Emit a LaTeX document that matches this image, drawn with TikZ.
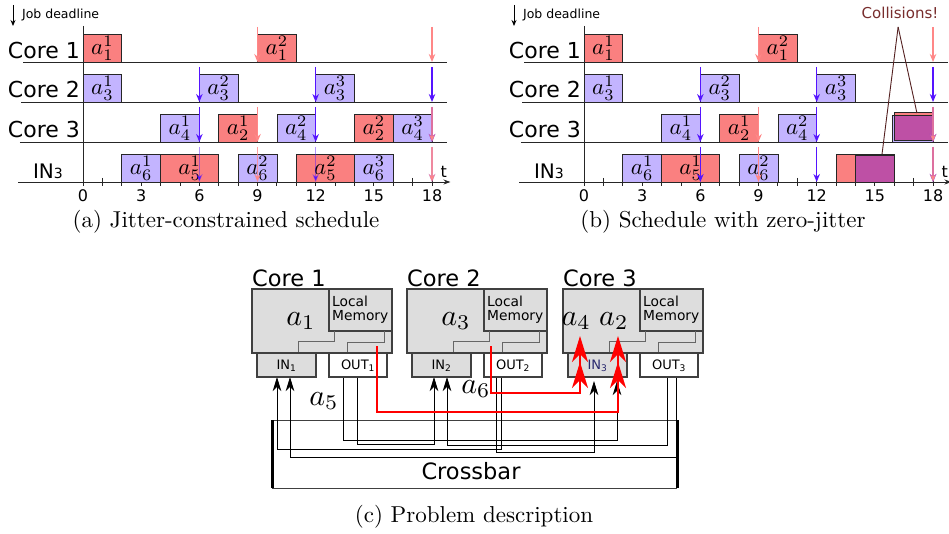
\RequirePackage{fix-cm}
\documentclass[tikz,border=0pt]{standalone}
\usepackage{fontspec}
\setsansfont{DejaVu Sans}
\usepackage{graphicx}
\usetikzlibrary{arrows.meta}
\definecolor{jred}{RGB}{250,128,128}
\definecolor{jblue}{RGB}{195,180,255}
\definecolor{dlblue}{RGB}{85,20,255}
\definecolor{dlpink}{RGB}{255,135,135}
\definecolor{mixc}{RGB}{190,80,165}
\definecolor{memgray}{RGB}{221,221,221}
\definecolor{collcol}{RGB}{120,45,45}
\definecolor{navyin}{RGB}{40,40,110}
\newcommand\fsz[1]{\fontsize{#1}{#1}\selectfont}
\tikzset{
  rowline/.style={line width=0.9pt, draw=black!85},
  jobbox/.style={draw=black!85, line width=0.8pt},
  joblbl/.style={inner sep=0pt},
  dlB/.style={draw=dlblue, line width=1.1pt, -{Stealth[length=8pt,width=6.5pt]}},
  dlP/.style={draw=dlpink, line width=1.1pt, -{Stealth[length=8pt,width=6.5pt]}},
  rowlbl/.style={font=\sffamily\fsz{22}, inner sep=0pt},
  numlbl/.style={font=\sffamily\fsz{16}, inner sep=0pt},
  caplbl/.style={inner sep=0pt},
  corebox/.style={draw=black!75, line width=1.1pt, fill=memgray},
  outbox/.style={draw=black!75, line width=1.1pt, fill=white},
  inl/.style={draw=black!60, line width=1pt},
  portlbl/.style={font=\sffamily\fsz{13}, inner sep=0pt},
  wire/.style={draw=black, line width=0.8pt, -{Stealth[length=14pt,width=8.5pt,inset=4pt]}},
  redw/.style={draw=red, line width=2.5pt, -{Stealth[length=26pt,width=16pt,inset=8pt]Stealth[length=26pt,width=16pt,inset=8pt]}},
  collline/.style={draw=collcol!70!black, line width=0.9pt},
}
\newcommand\jbox[6]{%
  \draw[jobbox,fill=#1] (#2,#4-28) rectangle (#3,#4);
  \node[joblbl] (#6) at ({(#2+#3)/2},#4-14) {\scalebox{2.3}{#5}};}
\newcommand\dline[3]{\draw[#1] (#2,#3-35) -- (#2,#3);}
\newcommand\chartframe[1]{%
  \draw[rowline] (-3.09,62) -- (18.75,62);
  \draw[rowline] (-3.19,102) -- (18.75,102);
  \draw[rowline] (-3.25,142) -- (18.75,142);
  \foreach \i in {0,...,18} \draw[rowline] (\i,178) -- (\i,186);
  \draw[rowline,-{Stealth[length=7pt,width=5pt]}] (-3.35,182) -- (18.95,182);
  \draw[rowline] (0,26) -- (0,186);
  \foreach \i in {0,3,...,18} \node[numlbl] (#1n\i) at (\i,196) {\i};
  \node[numlbl] (#1t) at (18.6,172) {t};
  \node[rowlbl,anchor=east] (#1c1) at (-0.15,50) {Core 1};
  \node[rowlbl,anchor=east] (#1c2) at (-0.15,89) {Core 2};
  \node[rowlbl,anchor=east] (#1c3) at (-0.15,129) {Core 3};
  \node[anchor=east,inner sep=0pt,font=\sffamily] (#1in) at (-1.03,171) {\fsz{20}IN\fsz{14}3};
  \coordinate (#1jdt) at (-3.61,5);
  \coordinate (#1jdb) at (-3.61,26);
  \draw[line width=0.9pt,-{Stealth[length=6pt,width=5pt]}] (#1jdt) -- (#1jdb);
  \node[font=\sffamily\fsz{12.5}, anchor=west, inner sep=0pt] (#1jd) at (-3.15,15) {Job deadline};
}
\newcommand\coreunit[3]{%
  \draw[corebox] (#1,289) rectangle ++(140,64);
  \draw[corebox] (#1+77,289) rectangle (#1+140,331);
  \node[font=\sffamily\fsz{13.8}, align=left, anchor=west, inner sep=0pt] (mem#2) at (#1+80,310) {Local\\[0pt]Memory};
  \draw[inl] (#1+46,353) -- (#1+46,341) -- (#1+82,341) -- (#1+82,331);
  \draw[inl] (#1+95,353) -- (#1+95,342) -- (#1+132,342) -- (#1+132,331);
  \draw[corebox] (#1+5,353) rectangle (#1+64,377);
  \draw[outbox] (#1+77,353) rectangle (#1+135,377);
  \node[portlbl,text=#3] (in#2) at (#1+34.5,365.5) {IN\textsubscript{#2}};
  \node[portlbl] (out#2) at (#1+106,365.5) {OUT\textsubscript{#2}};
  \node[font=\sffamily\fsz{22.5}, anchor=west, inner sep=0pt] (core#2) at (#1,278) {Core #2};
}
\begin{document}
\begin{tikzpicture}[x=1pt,y=-1pt]
\useasboundingbox (0,0) rectangle (949,534);
\fill[white] (0,0) rectangle (949,534);

%%%%%%%% (a)
\begin{scope}[shift={(83pt,0pt)}, x=19.39pt]
  \chartframe{a}
  \jbox{jred}{0}{2}{62}{$a_1^1$}{aA11}
  \jbox{jred}{9}{11}{62}{$a_1^2$}{aA12}
  \jbox{jblue}{0}{2}{102}{$a_3^1$}{aA31}
  \jbox{jblue}{6}{8}{102}{$a_3^2$}{aA32}
  \jbox{jblue}{12}{14}{102}{$a_3^3$}{aA33}
  \jbox{jblue}{4}{6}{142}{$a_4^1$}{aA41}
  \jbox{jred}{7}{9}{142}{$a_2^1$}{aA21}
  \jbox{jblue}{10}{12}{142}{$a_4^2$}{aA42}
  \jbox{jred}{14}{16}{142}{$a_2^2$}{aA22}
  \jbox{jblue}{16}{18}{142}{$a_4^3$}{aA43}
  \jbox{jblue}{2}{4}{182}{$a_6^1$}{aA61}
  \jbox{jred}{4}{7}{182}{$a_5^1$}{aA51}
  \jbox{jblue}{8}{10}{182}{$a_6^2$}{aA62}
  \jbox{jred}{11}{14}{182}{$a_5^2$}{aA52}
  \jbox{jblue}{14}{16}{182}{$a_6^3$}{aA63}
  \dline{dlP}{9}{62}\dline{dlP}{18}{62}
  \dline{dlB}{6}{102}\dline{dlB}{12}{102}\dline{dlB}{18}{102}
  \dline{dlB}{6}{142}\dline{dlB}{12}{142}\dline{dlB}{18}{142}
  \dline{dlP}{9}{142}\dline{dlP,draw opacity=0.8}{18}{142}
  \dline{dlB,draw opacity=0.45}{6}{182}\dline{dlB,draw opacity=0.45}{12}{182}\dline{dlB,draw opacity=0.45}{18}{182}
  \dline{dlP,draw opacity=0.8}{9}{182}\dline{dlP,draw opacity=0.8}{18}{182}
\end{scope}

%%%%%%%% (b)
\begin{scope}[shift={(584pt,0pt)}, x=19.39pt]
  \chartframe{b}
  \jbox{jred}{0}{2}{62}{$a_1^1$}{bA11}
  \jbox{jred}{9}{11}{62}{$a_1^2$}{bA12}
  \jbox{jblue}{0}{2}{102}{$a_3^1$}{bA31}
  \jbox{jblue}{6}{8}{102}{$a_3^2$}{bA32}
  \jbox{jblue}{12}{14}{102}{$a_3^3$}{bA33}
  \jbox{jblue}{4}{6}{142}{$a_4^1$}{bA41}
  \jbox{jred}{7}{9}{142}{$a_2^1$}{bA21}
  \jbox{jblue}{10}{12}{142}{$a_4^2$}{bA42}
  \draw[jobbox,fill=jblue] (15.9,115) rectangle (18,142);
  \draw[jobbox,fill=jred] (16,112) rectangle (18,140);
  \draw[jobbox,fill=mixc] (16,115) rectangle (18,140);
  \jbox{jblue}{2}{4}{182}{$a_6^1$}{bA61}
  \jbox{jred}{4}{7}{182}{$a_5^1$}{bA51}
  \jbox{jblue}{8}{10}{182}{$a_6^2$}{bA62}
  \draw[jobbox,fill=jred] (13,154) rectangle (16,182);
  \draw[jobbox,fill=mixc] (14,155) rectangle (16,182);
  \dline{dlP}{9}{62}\dline{dlP}{18}{62}
  \dline{dlB}{6}{102}\dline{dlB}{12}{102}\dline{dlB}{18}{102}
  \dline{dlB}{6}{142}\dline{dlB}{12}{142}\dline{dlB}{18}{142}
  \dline{dlP}{9}{142}\dline{dlP,draw opacity=0.8}{18}{142}
  \dline{dlB}{6}{182}\dline{dlB}{12}{182}\dline{dlB}{18}{182}
  \dline{dlP}{9}{182}\dline{dlP,draw opacity=0.8}{18}{182}
  \node[font=\sffamily\fsz{15}, text=collcol, inner sep=0pt] (coll) at (16.3,13) {Collisions!};
  \coordinate (collpt) at (16.2,27);
  \coordinate (collA) at (15.37,154);
  \coordinate (collB) at (17.17,113);
  \draw[collline] (collpt) -- (collA);
  \draw[collline] (collpt) -- (collB);
\end{scope}

\node[caplbl] (capa) at (226,222) {\scalebox{2.3}{(a) Jitter-constrained schedule}};
\node[caplbl] (capb) at (723,222) {\scalebox{2.3}{(b) Schedule with zero-jitter}};
\node[caplbl] (capc) at (474,517) {\scalebox{2.3}{(c) Problem description}};

%%%%%%%% (c)
\coordinate (cbtl) at (272,420);
\coordinate (cbtr) at (677,420);
\coordinate (cbbl) at (272,488);
\coordinate (cbbr) at (677,488);
\draw[line width=0.8pt, black!75] (cbtl) -- (cbtr);
\draw[line width=0.8pt, black!75] (cbbl) -- (cbbr);
\node[font=\sffamily\fsz{22.5}, inner sep=0pt] (xbar) at (471,471) {Crossbar};

\coordinate (o1a) at (343,377);
\coordinate (o1b) at (357,377);
\coordinate (o2a) at (496,377);
\coordinate (o2b) at (501,377);
\coordinate (o3a) at (667,377);
\coordinate (o3b) at (676,377);
\coordinate (i1a) at (277,377);
\coordinate (i1b) at (290,377);
\coordinate (i2a) at (434,377);
\coordinate (i2b) at (447,377);
\coordinate (i3a) at (594,381);
\coordinate (i3b) at (617,381);
\draw[wire] (o1a) -- ++(0,63) -| (i3b);
\draw[wire] (o1b) -- ++(0,67) -| (i2a);
\draw[wire] (o3a) -- ++(0,68) -| (i2b);
\draw[wire] (o2b) -- ++(0,72) -| (i1a);
\draw[wire] (o2a) -- ++(0,75) -| (i3a);
\draw[wire] (o3b) -- ++(0,80) -| (i1b);
\draw[line width=3pt] (cbtl) -- (cbbl);
\draw[line width=3pt] (cbtr) -- (cbbr);

\coreunit{252}{1}{black}
\coreunit{407}{2}{black}
\coreunit{563}{3}{navyin}

\node[inner sep=0pt] (la1) at (301,321) {\scalebox{3}{$a_1$}};
\node[inner sep=0pt] (la3) at (456,321) {\scalebox{3}{$a_3$}};
\node[inner sep=0pt] (la42) at (595,321) {\scalebox{3}{$a_4\;a_2$}};
\node[inner sep=0pt] (la5) at (324,401) {\scalebox{3}{$a_5$}};
\node[inner sep=0pt] (la6) at (476,389) {\scalebox{3}{$a_6$}};

\coordinate (r1s) at (377,346);
\coordinate (r1e) at (618,336);
\coordinate (r2s) at (491,346);
\coordinate (r2e) at (580,336);
\draw[redw] (r1s) -- ++(0,66) -| (r1e);
\draw[redw] (r2s) -- ++(0,47) -| (r2e);
\end{tikzpicture}
\end{document}
